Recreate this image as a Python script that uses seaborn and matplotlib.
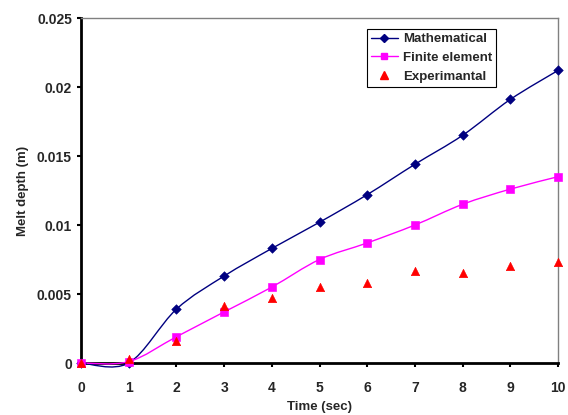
import numpy as np
import pandas as pd
import matplotlib
matplotlib.use("Agg")
import matplotlib.pyplot as plt
from matplotlib.path import Path
from matplotlib.patches import PathPatch
from matplotlib.lines import Line2D
import seaborn as sns

time = [0, 1, 2, 3, 4, 5, 6, 7, 8, 9, 10]
mathematical = [0.0, 0.0, 0.0039, 0.0063, 0.0083, 0.0102, 0.0122, 0.0144, 0.0165, 0.0191, 0.0212]
finite_element = [0.0, 0.0001, 0.0019, 0.0037, 0.0055, 0.0075, 0.0087, 0.0100, 0.0115, 0.0126, 0.0135]
experimental = [0.0, 0.0003, 0.0016, 0.0041, 0.0047, 0.0055, 0.0058, 0.0067, 0.0065, 0.0070, 0.0073]
y_ticks = [0, 0.005, 0.01, 0.015, 0.02, 0.025]
y_tick_labels = ["0", "0.005", "0.01", "0.015", "0.02", "0.025"]

sns.set_theme(style="white")
plt.rcParams["font.family"] = ["Liberation Sans", "DejaVu Sans"]
plt.rcParams["font.weight"] = "bold"

fig = plt.figure(figsize=(5.68, 4.15), dpi=100)
ax = fig.add_axes([0.1426, 0.1253, 0.8398, 0.8313])


def smooth_path(xs, ys):
    # Excel-style smoothed line (cubic Bezier through the points)
    pts = np.column_stack([xs, ys]).astype(float)
    n = len(pts)
    verts = [pts[0]]
    codes = [Path.MOVETO]
    for i in range(n - 1):
        p0 = pts[i - 1] if i > 0 else pts[i]
        p1 = pts[i]
        p2 = pts[i + 1]
        p3 = pts[i + 2] if i + 2 < n else pts[i + 1]
        c1 = p1 + (p2 - p0) / 6.0
        c2 = p2 - (p3 - p1) / 6.0
        verts += [c1, c2, p2]
        codes += [Path.CURVE4] * 3
    return Path(verts, codes)


df = pd.DataFrame({"time": time, "Mathematical": mathematical,
                   "Finite element": finite_element, "Experimantal": experimental})

for vals, col in [(mathematical, "#000080"), (finite_element, "#FF00FF")]:
    p = PathPatch(smooth_path(time, vals), fill=False, edgecolor=col, lw=1.0, zorder=4)
    p.set_clip_on(False)
    ax.add_patch(p)

sns.scatterplot(data=df, x="time", y="Mathematical", ax=ax, marker="D", s=24,
                color="#000080", edgecolor="#000080", zorder=5, clip_on=False)
sns.scatterplot(data=df, x="time", y="Finite element", ax=ax, marker="s", s=30,
                color="#FF00FF", edgecolor="#FF00FF", zorder=5, clip_on=False)
sns.scatterplot(data=df, x="time", y="Experimantal", ax=ax, marker="^", s=36,
                color="#FF0000", edgecolor="#FF0000", zorder=5, clip_on=False)

handles = [
    Line2D([], [], color="#000080", lw=1.0, marker="D", markersize=4.5),
    Line2D([], [], color="#FF00FF", lw=1.0, marker="s", markersize=5),
    Line2D([], [], color="#FF0000", lw=0, marker="^", markersize=6),
]
leg = ax.legend(handles, ["Mathematical", "Finite element", "Experimantal"],
                loc="upper left", bbox_to_anchor=(0.6, 0.968), frameon=True,
                fancybox=False, framealpha=1, edgecolor="black",
                prop={"weight": "bold", "size": 9.5}, handlelength=2.0,
                handletextpad=0.4, borderpad=0.3, labelspacing=0.5,
                borderaxespad=0)
leg.get_frame().set_linewidth(0.8)

ax.set_xlim(0, 10)
ax.set_ylim(0, 0.025)
ax.set_xticks(time)
ax.set_xticklabels([str(t) for t in time], fontsize=10, fontweight="bold")
ax.set_yticks(y_ticks)
ax.set_yticklabels(y_tick_labels, fontsize=10, fontweight="bold")
ax.set_xlabel("Time (sec)", fontsize=9.5, fontweight="bold", labelpad=4)
ax.set_ylabel("Melt depth (m)", fontsize=9.5, fontweight="bold", labelpad=6)

for side in ["left", "bottom"]:
    ax.spines[side].set_color("black")
    ax.spines[side].set_linewidth(2.0)
for side in ["top", "right"]:
    ax.spines[side].set_color("#808080")
    ax.spines[side].set_linewidth(1.0)
ax.tick_params(axis="both", direction="out", length=3, width=1.5, color="black",
               bottom=True, left=True)
ax.tick_params(axis="x", pad=10)
ax.tick_params(axis="y", pad=3.5)

fig.savefig("out.png", dpi=100)
